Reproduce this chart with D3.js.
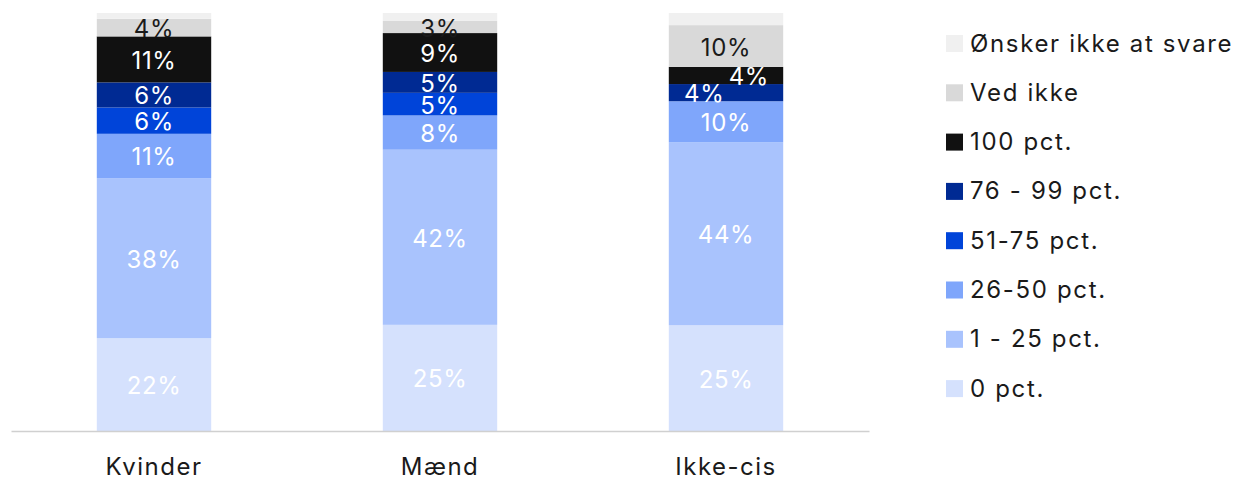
<!DOCTYPE html>
<html>
<head>
<meta charset="utf-8">
<script src="https://cdn.jsdelivr.net/npm/d3@7"></script>
<style>
  html, body { margin: 0; padding: 0; background: #ffffff; }
  svg { display: block; font-family: Inter, "Open Sans", sans-serif; }
</style>
</head>
<body>
<svg id="chart" width="1237" height="480"></svg>
<script>
// Groups along the x axis
const groups = ["Kvinder", "Mænd", "Ikke-cis"];

// Answer categories, stacked bottom to top
const answers = ["0 pct.", "1 - 25 pct.", "26-50 pct.", "51-75 pct.", "76 - 99 pct.", "100 pct.", "Ved ikke", "Ønsker ikke at svare"];

// Share of respondents (%) per answer, one array per group
const kvinder = [22.2, 38.3, 10.6, 6.3, 6.0, 11.0, 4.2, 1.4];
const maend   = [25.4, 41.9, 8.2, 5.4, 5.0, 9.3, 2.9, 1.9];
const ikkeCis = [25.3, 43.8, 9.8, 0.0, 4.1, 4.1, 10.0, 2.9];

const colors = ["#d5e1fd", "#a9c3fd", "#7fa6fb", "#0044d9", "#002a93", "#111111", "#d9d9d9", "#f0f0f0"];

const seriesByGroup = [kvinder, maend, ikkeCis];
const rows = groups.map((g, i) => {
  const r = { group: g };
  answers.forEach((a, j) => { r[a] = seriesByGroup[i][j]; });
  return r;
});

const svg = d3.select("#chart");
const plotLeft = 11, plotRight = 869, plotTop = 13, plotBottom = 431;

const x = d3.scaleBand().domain(groups).range([plotLeft, plotRight])
  .paddingInner(0.6).paddingOuter(0.3);
const y = d3.scaleLinear().domain([0, 100]).range([plotBottom, plotTop]);
const color = d3.scaleOrdinal().domain(answers).range(colors);

const stacked = d3.stack().keys(answers)(rows);

// Bars
const layers = svg.append("g").selectAll("g")
  .data(stacked).join("g")
  .attr("fill", d => color(d.key));

layers.selectAll("rect")
  .data(d => d.map(p => ({ key: d.key, p })))
  .join("rect")
  .attr("x", d => x(d.p.data.group))
  .attr("width", x.bandwidth())
  .attr("y", d => y(d.p[1]))
  .attr("height", d => Math.max(0, y(d.p[0]) - y(d.p[1])));

// Value labels (skipping "Ønsker ikke at svare" and empty segments)
const labelData = [];
stacked.forEach((layer, li) => {
  layer.forEach((p, gi) => {
    const v = p[1] - p[0];
    if (layer.key === "Ønsker ikke at svare" || v <= 0) return;
    labelData.push({ key: layer.key, li, gi, p, v });
  });
});

// Stagger labels of small neighbouring segments sideways so they don't collide
function neighbourSmall(d, dir) {
  let li = d.li + dir;
  while (li >= 0 && li < stacked.length) {
    const p = stacked[li][d.gi];
    const v = p[1] - p[0];
    if (v > 0) return v < 5 && stacked[li].key !== "Ønsker ikke at svare" && stacked[li].key !== "Ved ikke";
    li += dir;
  }
  return false;
}
labelData.forEach(d => {
  d.dx = 0;
  if (d.v < 5 && d.key !== "Ved ikke") {
    if (neighbourSmall(d, 1)) d.dx = -0.19 * x.bandwidth();
    else if (neighbourSmall(d, -1)) d.dx = 0.2 * x.bandwidth();
  }
});

svg.append("g").selectAll("text")
  .data(labelData).join("text")
  .attr("x", d => x(d.p.data.group) + x.bandwidth() / 2 + d.dx)
  .attr("y", d => (y(d.p[0]) + y(d.p[1])) / 2 + 1)
  .attr("text-anchor", "middle")
  .attr("dominant-baseline", "central")
  .attr("font-size", 24)
  .attr("letter-spacing", 0.6)
  .attr("fill", d => d.key === "Ved ikke" ? "#1a1a1a" : "#ffffff")
  .text(d => Math.round(d.v) + "%");

// X axis
const xAxis = svg.append("g")
  .attr("transform", `translate(0,${plotBottom})`)
  .call(d3.axisBottom(x).tickSize(0).tickPadding(27));
xAxis.select(".domain").attr("stroke", "#d0d0d0").attr("stroke-width", 1.5);
xAxis.selectAll("text")
  .attr("font-size", 24)
  .attr("letter-spacing", 1.5)
  .attr("fill", "#1a1a1a")
  .attr("font-family", "Inter, 'Open Sans', sans-serif");

// Legend, top entry = top of stack
const legendItems = answers.slice().reverse();
const legend = svg.append("g").attr("transform", "translate(946,43)");
const item = legend.selectAll("g").data(legendItems).join("g")
  .attr("transform", (d, i) => `translate(0,${i * 49.3})`);
item.append("rect")
  .attr("x", 0).attr("y", -8).attr("width", 17).attr("height", 17)
  .attr("fill", d => color(d));
item.append("text")
  .attr("x", 24).attr("y", 0)
  .attr("dominant-baseline", "central")
  .attr("font-size", 24)
  .attr("letter-spacing", 1.65)
  .attr("fill", "#1a1a1a")
  .text(d => d);
</script>
</body>
</html>
